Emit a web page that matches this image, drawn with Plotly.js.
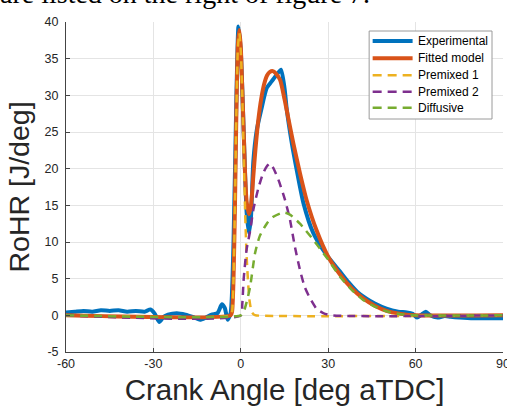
<!DOCTYPE html>
<html>
<head>
<meta charset="utf-8">
<script src="https://cdn.plot.ly/plotly-3.0.1.min.js"></script>
<style>
html,body{margin:0;padding:0;background:#fff;overflow:hidden;}
#wrap{position:relative;width:507px;height:410px;overflow:hidden;}
#cap{position:absolute;left:0;top:-22px;font-family:"Liberation Serif","Times New Roman",serif;font-size:28px;line-height:32px;color:#000;white-space:nowrap;z-index:5;}
#chart{position:absolute;left:0;top:0;width:507px;height:410px;}
</style>
</head>
<body>
<div id="wrap">
<div id="cap">are listed on the right of figure 7.</div>
<div id="chart"></div>
</div>
<script>
// Experimental RoHR
const expX = [-60,-57,-54,-51,-48,-45,-42,-39,-36,-33,-31,-29.5,-28,-26.5,-25,-22,-19,-16,-14,-12,-10,-8,-6.5,-5.5,-4.5,-3.5,-2.5,-1.5,-0.8,0,1,2,2.8,3.5,4.3,5.5,7,8.9,10.6,12.3,13.8,15,15.8,17.5,19.2,21.5,24.9,29.5,34,37,40,43,46,50,54,57,59,60.5,62,63.5,65,67.5,70,72,75,80,85,90];
const expY = [0.4,0.5,0.6,0.5,0.7,0.6,0.7,0.5,0.6,0.5,0.8,0.2,-0.9,-0.2,0.1,0.3,0.1,-0.3,-0.6,-0.3,0.1,0.3,1.5,1.0,-0.6,0.3,10,30,39.4,36,25,14,11.2,13.5,21,25.3,28,31,31.9,32.8,33.5,31,28,23.5,19.8,15.3,11.2,8.2,6,4.5,3.2,2.3,1.6,0.9,0.5,0.4,0.2,-0.3,0.1,0.5,0,-0.3,-0.1,-0.2,-0.3,-0.4,-0.4,-0.4];
// Fitted model
const fitX = [-60,-3.5,-3,-2.5,-2,-1.5,-1,-0.5,0,0.5,1,1.5,2,2.8,3.5,4.3,5,6,7,8,9,10,11,12,13.5,15,16,18,20.3,22.6,26,30,34,38,42,46,50,55,60,90];
const fitY = [0,0,0.5,5,15,28,37,38.9,36.5,31,25,19,15.5,13.8,15,19,22.5,26.6,29.5,31.5,32.7,33.2,33.3,33,32.1,29.5,27.5,23.5,19.4,15.7,11.6,8,5.6,3.7,2.3,1.3,0.6,0.2,0,0];
// Premixed 1
const pm1X = [-60,-3.5,-3,-2.5,-2,-1.5,-1,-0.5,0,0.5,1,1.5,2,2.6,3,3.7,4.5,5,90];
const pm1Y = [0,0,0.5,5,15,28,36.5,38.5,36,30,22,14,8,3.9,2,0.5,0.1,0,0];
// Premixed 2
const pm2X = [-60,0,0.5,1,2,3.2,4.3,6,7.5,8.9,10,11,12.9,15.2,16.9,18.5,20.3,22,23.8,26,28.3,31,90];
const pm2Y = [0,0,1.5,5,9,11.5,14.4,17.3,19.2,20.3,20.7,20.2,18.5,15.7,13,9.5,6.2,3.8,2.3,0.9,0.3,0,0];
// Diffusive
const difX = [-60,0,1,2,3.2,4.9,6.5,8.9,11,13.6,15.2,17,20.3,22,24.9,28.3,30,34,38,42,46,50,55,60,90];
const difY = [0,0,0.5,1.8,3.9,8.5,10.8,12.5,13.4,13.9,14,13.7,12.5,11.7,10.3,8.5,7.6,5.3,3.5,2.1,1.2,0.55,0.15,0,0];

const xTicks = [-60,-30,0,30,60,90];
const yTicks = [-5,0,5,10,15,20,25,30,35,40];

const seriesNames = ['Experimental','Fitted model','Premixed 1','Premixed 2','Diffusive'];
const seriesColors = ['#0072BD','#D95319','#EDB120','#7E2F8E','#77AC30'];
const seriesWidths = [4,4,2.5,2.5,2.5];
const seriesDash = ['solid','solid','8px,6px','8px,6px','8px,6px'];
const seriesX = [expX, fitX, pm1X, pm2X, difX];
const seriesY = [expY, fitY, pm1Y, pm2Y, difY];

const traces = seriesNames.map((n, i) => ({
  x: seriesX[i], y: seriesY[i], name: n, mode: 'lines', showlegend: false,
  line: {color: seriesColors[i], width: seriesWidths[i], dash: seriesDash[i], shape: 'spline', smoothing: 0.6}
}));

// Custom legend (paper coordinates from pixel positions)
const L = 66, W = 437.5, B = 352, H = 330;
const px = v => (v - L) / W;
const py = v => (B - v) / H;
const shapes = [{type: 'rect', xref: 'paper', yref: 'paper', x0: px(369.5), x1: px(492.5), y0: py(31), y1: py(119),
  line: {color: '#9a9a9a', width: 1}, fillcolor: '#fff', layer: 'above'}];
const annotations = [];
const rowY = [41, 58.3, 75.3, 91.7, 107.7];
seriesNames.forEach((n, i) => {
  shapes.push({type: 'line', xref: 'paper', yref: 'paper', x0: px(373), x1: px(413), y0: py(rowY[i]), y1: py(rowY[i]),
    line: {color: seriesColors[i], width: i < 2 ? 4 : 2.5, dash: i < 2 ? 'solid' : '9px,6px'}, layer: 'above'});
  annotations.push({xref: 'paper', yref: 'paper', x: px(416), y: py(rowY[i]), xanchor: 'left', yanchor: 'middle',
    text: n, showarrow: false, font: {size: 12, color: '#000'}});
});

const layout = {
  width: 507, height: 410,
  margin: {l: 66, r: 4, t: 22, b: 58},
  paper_bgcolor: '#fff', plot_bgcolor: '#fff',
  font: {family: 'Liberation Sans, Arial, sans-serif', color: '#262626'},
  showlegend: false,
  shapes: shapes,
  annotations: annotations,
  xaxis: {range: [-60, 90], tickvals: xTicks, ticktext: xTicks.map(String), showgrid: true, gridcolor: '#e4e4e4', gridwidth: 1,
          zeroline: false, showline: true, linecolor: '#444', linewidth: 1, ticks: 'inside', ticklen: 4, tickcolor: '#444',
          ticklabeloverflow: 'allow',
          tickfont: {size: 12.5, color: '#262626'},
          title: {text: 'Crank Angle [deg aTDC]', font: {size: 29.5, color: '#262626'}, standoff: 9}},
  yaxis: {range: [-5, 40], tickvals: yTicks, ticktext: yTicks.map(String), showgrid: true, gridcolor: '#e4e4e4', gridwidth: 1,
          zeroline: false, showline: true, linecolor: '#444', linewidth: 1, ticks: 'inside', ticklen: 4, tickcolor: '#444',
          tickfont: {size: 12.5, color: '#262626'}, ticklabelstandoff: 4,
          title: {text: 'RoHR [J/deg]', font: {size: 28.5, color: '#262626'}, standoff: 6}}
};

Plotly.newPlot('chart', traces, layout, {displayModeBar: false, staticPlot: true});
</script>
</body>
</html>
